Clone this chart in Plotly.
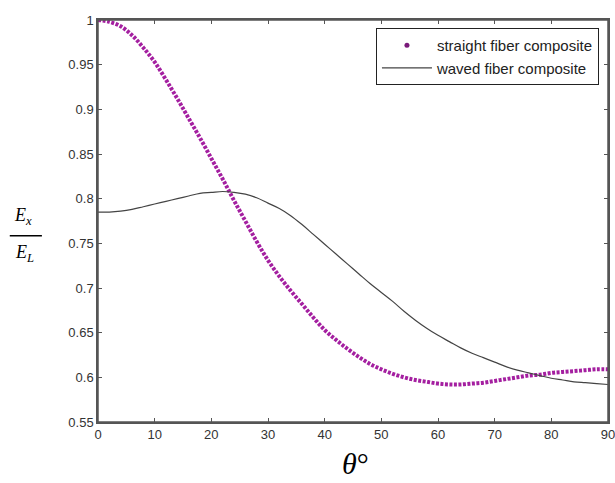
import plotly.graph_objects as go

theta = list(range(0, 91, 2))

straight_fiber = [1.000, 0.998, 0.993, 0.983, 0.969, 0.953, 0.933, 0.912, 0.890, 0.868,
                  0.845, 0.822, 0.798, 0.775, 0.752, 0.731, 0.713, 0.697, 0.682, 0.667,
                  0.653, 0.642, 0.632, 0.623, 0.615, 0.609, 0.604, 0.600, 0.597, 0.595,
                  0.593, 0.592, 0.592, 0.593, 0.594, 0.596, 0.598, 0.600, 0.602, 0.603,
                  0.605, 0.606, 0.607, 0.608, 0.609, 0.609]

waved_fiber = [0.785, 0.785, 0.786, 0.788, 0.791, 0.794, 0.797, 0.800, 0.803, 0.806,
               0.807, 0.808, 0.807, 0.805, 0.801, 0.795, 0.789, 0.781, 0.771, 0.760,
               0.749, 0.738, 0.727, 0.716, 0.705, 0.695, 0.685, 0.674, 0.664, 0.655,
               0.647, 0.640, 0.633, 0.627, 0.622, 0.617, 0.612, 0.608, 0.605, 0.602,
               0.599, 0.597, 0.595, 0.594, 0.593, 0.592]

x_ticks = list(range(0, 91, 10))
y_ticks = [0.55, 0.6, 0.65, 0.7, 0.75, 0.8, 0.85, 0.9, 0.95, 1]

purple = "#a41fa0"
frame_color = "#555555"

fig = go.Figure()
fig.add_trace(go.Scatter(x=theta, y=straight_fiber, mode="lines", showlegend=False,
                         line=dict(color=purple, width=4, dash="3px,1.5px", shape="spline")))
fig.add_trace(go.Scatter(x=[None], y=[None], mode="markers", name="straight fiber composite",
                         marker=dict(color="#7a1a7a", size=5)))
fig.add_trace(go.Scatter(x=theta, y=waved_fiber, mode="lines", name="waved fiber composite",
                         line=dict(color="#444444", width=1.2, shape="spline")))

axis_common = dict(showline=True, linecolor=frame_color, linewidth=1.5, mirror="ticks",
                   ticks="inside", ticklen=4, tickcolor=frame_color, showgrid=False,
                   zeroline=False, automargin=False, ticklabeloverflow="allow",
                   tickfont=dict(family="Liberation Sans, Arial", size=13, color="#333333"))

fig.update_layout(
    width=615, height=483,
    margin=dict(l=98, r=7, t=20, b=61),
    paper_bgcolor="white", plot_bgcolor="white",
    xaxis=dict(range=[0, 90], tickvals=x_ticks, **axis_common),
    yaxis=dict(range=[0.55, 1], tickvals=y_ticks, **axis_common),
    legend=dict(x=0.545, y=0.98, xanchor="left", yanchor="top",
                bgcolor="white", bordercolor="#222222", borderwidth=1,
                font=dict(family="Liberation Sans, Arial", size=15, color="#222222"),
                tracegroupgap=0, itemwidth=50),
    showlegend=True,
)

# plot frame
fig.add_shape(type="rect", xref="paper", yref="paper", x0=0, x1=1, y0=0, y1=1,
              line=dict(color=frame_color, width=1.5), fillcolor="rgba(0,0,0,0)", layer="above")

serif = "Liberation Serif, Times New Roman"
fig.add_annotation(text="<i>E<sub>x</sub></i>", xref="paper", yref="paper", x=-0.147, y=0.512,
                   showarrow=False, font=dict(family=serif, size=18, color="black"),
                   xanchor="center", yanchor="middle")
fig.add_annotation(text="<i>E<sub>L</sub></i>", xref="paper", yref="paper", x=-0.145, y=0.419,
                   showarrow=False, font=dict(family=serif, size=18, color="black"),
                   xanchor="center", yanchor="middle")
fig.add_shape(type="line", xref="paper", yref="paper", x0=-0.173, x1=-0.110, y0=0.463, y1=0.463,
              line=dict(color="black", width=1.5))
fig.add_annotation(text="<i>θ</i>°", xref="paper", yref="paper", x=0.504, y=-0.102,
                   showarrow=False, font=dict(family=serif, size=30, color="black"),
                   xanchor="center", yanchor="middle")

fig.write_html("out.html", config={"displayModeBar": False},
               post_script="document.body.style.margin='0';document.body.style.overflow='hidden';")
